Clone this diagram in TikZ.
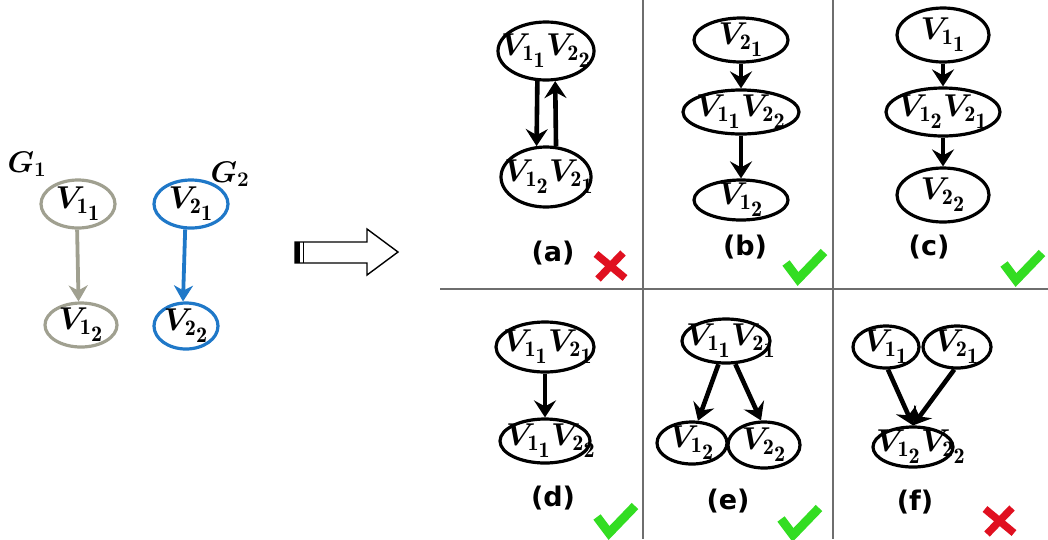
\documentclass[tikz,border=0pt]{standalone}
\usepackage{fontspec}
\usepackage{bm}
\usepackage{graphicx}
\usetikzlibrary{shapes.geometric,arrows.meta}
\newfontfamily\lblfont{DejaVu Sans}
\definecolor{gone}{HTML}{A0A090}
\definecolor{gtwo}{HTML}{1F78C8}
\definecolor{panelgray}{HTML}{6E6E6E}
\definecolor{okgreen}{HTML}{33DD22}
\definecolor{badred}{HTML}{E01020}
\newcommand\Vs[2]{\bm{V}_{\mathbf{#1}_{\scriptstyle\mathbf{#2}}}}
\newcommand\Vt[1]{\scalebox{1.27}{$#1$}}
\begin{document}
\begin{tikzpicture}[x=1pt,y=-1pt,
  vn/.style={ellipse,draw,line width=3.2pt,inner sep=0pt},
  vt/.style={inner sep=0pt,font=\fontsize{25}{28}\selectfont},
  ed/.style={line width=4.6pt,-{Stealth[length=17pt,width=22pt,inset=6pt]}},
  edl/.style={line width=3.8pt,-{Stealth[length=16pt,width=19pt,inset=5pt]}},
  capt/.style={inner sep=0pt,font=\lblfont\bfseries\fontsize{27}{30}\selectfont},
  panelline/.style={line width=1.6pt,draw=panelgray},
  chk/.pic={\draw[okgreen,line width=9pt,line join=miter] (3,15) -- (15,31) -- (41,4);},
  xmk/.pic={\draw[badred,line width=7.5pt] (4,4) -- (33,28) (31,3) -- (6,29);}
]
\useasboundingbox (0,0) rectangle (1048,539);
\fill[white] (0,0) rectangle (1048,539);

% panel grid
\draw[panelline] (643,0) -- (643,539);
\draw[panelline] (833,0) -- (833,539);
\draw[panelline] (440,289) -- (1048,289);

% left graphs
\node[vt] (G1) at (27,164) {\scalebox{1.2}{$\bm{G_1}$}};
\node[vt] (G2) at (230,174) {\scalebox{1.2}{$\bm{G_2}$}};
\node[vn,draw=gone,minimum width=74,minimum height=48] (g11) at (78,204) {};
\node[vt] (g11t) at (g11) {\Vt{\Vs{1}{1}}};
\node[vn,draw=gone,minimum width=72,minimum height=44] (g12) at (81,325) {};
\node[vt] (g12t) at (g12) {\Vt{\Vs{1}{2}}};
\node[vn,draw=gtwo,minimum width=74,minimum height=48] (g21) at (191,204) {};
\node[vt] (g21t) at (g21) {\Vt{\Vs{2}{1}}};
\node[vn,draw=gtwo,minimum width=64,minimum height=46] (g22) at (186,326) {};
\node[vt] (g22t) at (g22) {\Vt{\Vs{2}{2}}};
\draw[edl,draw=gone,fill=gone] (g11.-92) -- (g12.96);
\draw[edl,draw=gtwo,fill=gtwo] (g21.-103) -- (g22.97);

% big arrow
\draw[line width=1.4pt,line join=miter] (295,242) -- (367,242) -- (367,229) -- (398,252) -- (367,275) -- (367,263) -- (295,263) -- cycle;
\fill (295,242) rectangle (300,263);
\draw[line width=1.4pt] (303.5,242) -- (303.5,263);

% (a)
\node[vn,minimum width=96,minimum height=58] (a1) at (546,51) {};
\node[vt] (a1t) at (a1) {\Vt{\Vs{1}{1}\Vs{2}{2}}};
\node[vn,minimum width=90,minimum height=60] (a2) at (546,177) {};
\node[vt] (a2t) at ([xshift=3]a2) {\Vt{\Vs{1}{2}\Vs{2}{1}}};
\draw[ed] (a1.-106) -- (a2.107);
\draw[ed] (a2.72) -- (a1.-73);
\node[capt] (la) at (553,253) {(a)};
\pic at (592,250) {xmk};

% (b)
\node[vn,minimum width=94,minimum height=44] (b1) at (741,40) {};
\node[vt] (b1t) at (b1) {\Vt{\Vs{2}{1}}};
\node[vn,minimum width=116,minimum height=44] (b2) at (741,112) {};
\node[vt] (b2t) at (b2) {\Vt{\Vs{1}{1}\Vs{2}{2}}};
\node[vn,minimum width=94,minimum height=40] (b3) at (741,200) {};
\node[vt] (b3t) at (b3) {\Vt{\Vs{1}{2}}};
\draw[ed] (b1) -- (b2);
\draw[ed] (b2) -- (b3);
\node[capt] (lb) at (745,247) {(b)};
\pic at (783,248) {chk};

% (c)
\node[vn,minimum width=92,minimum height=54] (c1) at (943,35) {};
\node[vt] (c1t) at (c1) {\Vt{\Vs{1}{1}}};
\node[vn,minimum width=114,minimum height=48] (c2) at (943,112) {};
\node[vt] (c2t) at (c2) {\Vt{\Vs{1}{2}\Vs{2}{1}}};
\node[vn,minimum width=92,minimum height=54] (c3) at (943,195) {};
\node[vt] (c3t) at (c3) {\Vt{\Vs{2}{2}}};
\draw[ed] (c1) -- (c2);
\draw[ed] (c2) -- (c3);
\node[capt] (lc) at (929,247) {(c)};
\pic at (1001,249) {chk};

% (d)
\node[vn,minimum width=98,minimum height=50] (d1) at (545,347) {};
\node[vt] (d1t) at ([xshift=3]d1) {\Vt{\Vs{1}{1}\Vs{2}{1}}};
\node[vn,minimum width=90,minimum height=44] (d2) at (545,441) {};
\node[vt] (d2t) at ([xshift=6]d2) {\Vt{\Vs{1}{1}\Vs{2}{2}}};
\draw[ed] (d1) -- (d2);
\node[capt] (ld) at (553,498) {(d)};
\pic at (594,502) {chk};

% (e)
\node[vn,minimum width=88,minimum height=44] (e1) at (726,341) {};
\node[vt] (e1t) at ([xshift=5]e1) {\Vt{\Vs{1}{1}\Vs{2}{1}}};
\node[vn,minimum width=70,minimum height=42] (e2) at (692,443) {};
\node[vt] (e2t) at (e2) {\Vt{\Vs{1}{2}}};
\node[vn,minimum width=72,minimum height=46] (e3) at (764,445) {};
\node[vt] (e3t) at (e3) {\Vt{\Vs{2}{2}}};
\draw[ed] (e1.-108) -- (e2.75);
\draw[ed] (e1.-68) -- (e3.97);
\node[capt] (le) at (728,501) {(e)};
\pic at (778,504) {chk};

% (f)
\node[vn,minimum width=66,minimum height=42] (f1) at (886,347) {};
\node[vt] (f1t) at (f1) {\Vt{\Vs{1}{1}}};
\node[vn,minimum width=68,minimum height=42] (f2) at (957,347) {};
\node[vt] (f2t) at (f2) {\Vt{\Vs{2}{1}}};
\node[vn,minimum width=80,minimum height=40] (f3) at (913,447) {};
\node[vt] (f3t) at ([xshift=8]f3) {\Vt{\Vs{1}{2}\Vs{2}{2}}};
\draw[ed] (f1.-85) -- (f3.north);
\draw[ed] (f2.-97) -- (f3.north);
\node[capt] (lf) at (915,502) {(f)};
\pic at (981,505) {xmk};
\end{tikzpicture}
\end{document}
